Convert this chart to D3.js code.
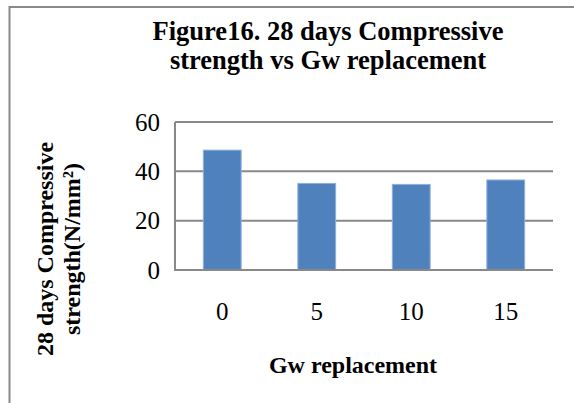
<!DOCTYPE html>
<html>
<head>
<meta charset="utf-8">
<script src="https://cdn.jsdelivr.net/npm/d3@7"></script>
<style>
  body { margin: 0; background: #fff; }
  text { font-family: "Liberation Serif", "Times New Roman", serif; fill: #000; }
</style>
</head>
<body>
<svg class="svg-main" width="574" height="403"></svg>
<script>
const categories = ["0", "5", "10", "15"];
const values = [48.6, 35.1, 34.7, 36.5];
const yTicks = [0, 20, 40, 60];
const titleLines = ["Figure16. 28 days Compressive", "strength vs Gw replacement"];
const yTitleLines = ["28 days Compressive", "strength(N/mm\u00B2)"];
const xTitle = "Gw replacement";

const svg = d3.select(".svg-main");
const width = Number(svg.attr("width"));
const height = Number(svg.attr("height"));

svg.append("rect")
  .attr("width", width)
  .attr("height", height)
  .attr("fill", "#fff");

// outer chart frame (only top and left edges visible)
svg.append("path")
  .attr("d", `M9.5,${height}V7H${width}`)
  .attr("fill", "none")
  .attr("stroke", "#898989")
  .attr("stroke-width", 2);

const plot = { left: 175, right: 553, top: 122, bottom: 270 };

const x = d3.scaleBand()
  .domain(categories)
  .range([plot.left, plot.right]);

const y = d3.scaleLinear()
  .domain([0, 60])
  .range([plot.bottom, plot.top]);

// gridlines
svg.append("g")
  .selectAll("line")
  .data(yTicks.filter(d => d > 0))
  .enter().append("line")
    .attr("x1", plot.left)
    .attr("x2", plot.right)
    .attr("y1", d => y(d))
    .attr("y2", d => y(d))
    .attr("stroke", "#898989")
    .attr("stroke-width", 2);

const barW = x.bandwidth() * 0.4;

svg.append("g")
  .selectAll("rect")
  .data(values)
  .enter().append("rect")
    .attr("x", (d, i) => x(categories[i]) + (x.bandwidth() - barW) / 2)
    .attr("y", d => y(d))
    .attr("width", barW)
    .attr("height", d => y(0) - y(d))
    .attr("fill", "#4f81bd")
    .attr("stroke", "#8fb0dc")
    .attr("stroke-width", 1);

// axes lines
svg.append("path")
  .attr("d", `M${plot.left},${plot.top}V${plot.bottom}H${plot.right}`)
  .attr("fill", "none")
  .attr("stroke", "#898989")
  .attr("stroke-width", 2);

// y tick labels
svg.append("g")
  .selectAll("text")
  .data(yTicks)
  .enter().append("text")
    .attr("x", 160)
    .attr("y", d => y(d))
    .attr("dy", "0.35em")
    .attr("text-anchor", "end")
    .style("font-size", "25px")
    .text(d => d);

// x tick labels
svg.append("g")
  .selectAll("text")
  .data(categories)
  .enter().append("text")
    .attr("x", d => x(d) + x.bandwidth() / 2)
    .attr("y", 320)
    .attr("text-anchor", "middle")
    .style("font-size", "25px")
    .text(d => d);

// title
svg.append("g")
  .selectAll("text")
  .data(titleLines)
  .enter().append("text")
    .attr("x", 328)
    .attr("y", (d, i) => 40 + i * 29)
    .attr("text-anchor", "middle")
    .style("font-size", "26.5px")
    .style("font-weight", "bold")
    .text(d => d);

// x axis title
svg.append("text")
  .attr("x", 353)
  .attr("y", 373)
  .attr("text-anchor", "middle")
  .style("font-size", "24px")
  .style("font-weight", "bold")
  .text(xTitle);

// y axis title
svg.append("g")
  .selectAll("text")
  .data(yTitleLines)
  .enter().append("text")
    .attr("transform", (d, i) => `translate(${53 + i * 27},249) rotate(-90)`)
    .attr("text-anchor", "middle")
    .style("font-size", "24px")
    .style("font-weight", "bold")
    .text(d => d);
</script>
</body>
</html>
